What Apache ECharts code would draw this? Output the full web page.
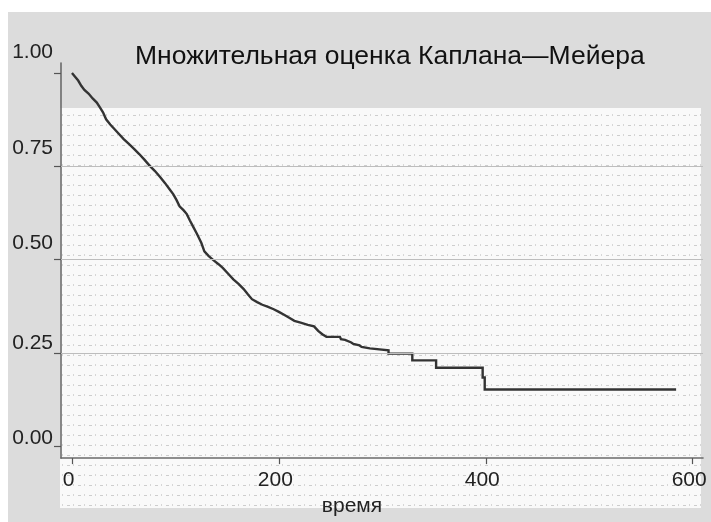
<!DOCTYPE html>
<html>
<head>
<meta charset="utf-8">
<script src="https://cdn.jsdelivr.net/npm/echarts@6/dist/echarts.min.js"></script>
<style>
  html, body { margin: 0; padding: 0; background: #ffffff; }
  #chart { width: 711px; height: 522px; }
</style>
</head>
<body>
<div id="chart"></div>
<script>
// Kaplan–Meier survival curve, traced as a path: time and survival at each vertex.
// In the sparse tail every drop is given by its two corner points.
const times = [
  0, 3, 6, 9, 12, 16, 20, 24, 27, 30, 33, 37, 41, 45, 50, 55, 60, 65, 70, 75,
  80, 85, 90, 94, 98, 101, 104, 108, 111, 114, 117, 121, 125, 128, 132, 137, 142, 146, 151, 156,
  161, 166, 170, 174, 179, 184, 189, 195, 200, 205, 210, 215, 221, 228, 234, 238, 242, 246, 259, 260,
  264, 265, 270, 272, 278, 280, 288, 289, 306, 306, 329, 329, 352, 352, 397, 397, 399, 399, 584
];
const survival = [
  1.000, 0.990, 0.980, 0.966, 0.955, 0.945, 0.932, 0.921, 0.908, 0.895, 0.876, 0.862, 0.850, 0.838, 0.823, 0.810, 0.797, 0.783, 0.768, 0.752,
  0.738, 0.722, 0.705, 0.690, 0.675, 0.660, 0.643, 0.632, 0.622, 0.605, 0.589, 0.568, 0.545, 0.522, 0.510, 0.498, 0.487, 0.477, 0.462, 0.447,
  0.435, 0.421, 0.407, 0.394, 0.386, 0.379, 0.374, 0.367, 0.360, 0.352, 0.344, 0.336, 0.331, 0.325, 0.321, 0.309, 0.300, 0.293, 0.293, 0.287,
  0.285, 0.280, 0.278, 0.274, 0.270, 0.266, 0.262, 0.257, 0.257, 0.248, 0.248, 0.230, 0.230, 0.210, 0.210, 0.184, 0.184, 0.152, 0.152
];
const xTicks = [0, 200, 400, 600];
const yTicks = [0, 0.25, 0.5, 0.75, 1];
const gridLevels = [0.25, 0.5, 0.75];
const titleText = 'Множительная оценка Каплана—Мейера';
const xName = 'время';

const FONT = '"Liberation Sans", Arial, Helvetica, sans-serif';

// each y label sits above its tick; the gap grows a little toward the top
const yLabelLift = [16, 20, 32, 36, 42];
const yRich = {};
yLabelLift.forEach((h, i) => {
  yRich['l' + i] = { fontSize: 21, color: '#222222', fontFamily: FONT, lineHeight: h };
});

// dotted texture for the plotting panel
function makePattern() {
  const c = document.createElement('canvas');
  c.width = 11; c.height = 10;
  const g = c.getContext('2d');
  g.fillStyle = '#f9f9f9';
  g.fillRect(0, 0, 11, 10);
  g.fillStyle = 'rgba(150,150,150,0.45)';
  g.fillRect(1, 5, 3, 1);
  g.fillStyle = 'rgba(150,150,150,0.35)';
  g.fillRect(7, 4, 1, 2);
  return c;
}

const points = times.map((t, i) => [t, survival[i]]);

const chart = echarts.init(document.getElementById('chart'), null, { renderer: 'canvas' });
chart.setOption({
  animation: false,
  backgroundColor: '#ffffff',
  textStyle: { fontFamily: FONT },
  title: {
    text: titleText,
    left: 130,
    top: 38,
    textStyle: { fontFamily: FONT, fontSize: 26.5, fontWeight: 'normal', color: '#111111' }
  },
  graphic: [
    { type: 'rect', z: -100, silent: true,
      shape: { x: 8, y: 12, width: 703, height: 510 },
      style: { fill: '#dcdcdc' } },
    { type: 'rect', z: -90, silent: true,
      shape: { x: 60, y: 108, width: 641, height: 400 },
      style: { fill: { image: makePattern(), repeat: 'repeat' } } }
  ],
  grid: { left: 61, right: 8, top: 63, bottom: 62, containLabel: false },
  xAxis: {
    type: 'value',
    min: -10.6,
    max: 610,
    axisLine: { show: true, onZero: false, lineStyle: { color: '#6a6a6a', width: 1.6 } },
    axisTick: { show: true, customValues: xTicks, length: 6, lineStyle: { color: '#555555', width: 1.2 } },
    axisLabel: {
      customValues: xTicks, margin: 12, fontSize: 21, color: '#222222', fontFamily: FONT,
      padding: [0, 7, 0, 0]
    },
    splitLine: { show: false },
    name: xName,
    nameLocation: 'middle',
    nameGap: 36,
    nameTextStyle: { fontSize: 21, color: '#222222', fontFamily: FONT, padding: [0, 60, 0, 0] }
  },
  yAxis: {
    type: 'value',
    min: -0.032,
    max: 1.027,
    axisLine: { show: true, onZero: false, lineStyle: { color: '#6a6a6a', width: 1.6 } },
    axisTick: { show: true, customValues: yTicks, length: 7, lineStyle: { color: '#555555', width: 1.2 } },
    axisLabel: {
      customValues: yTicks, margin: 8, fontSize: 21, color: '#222222', fontFamily: FONT,
      verticalAlign: 'bottom',
      formatter: v => {
        const i = yTicks.findIndex(t => Math.abs(t - v) < 1e-9);
        return '{l' + (i < 0 ? 0 : i) + '|' + v.toFixed(2) + '}';
      },
      rich: yRich
    },
    splitLine: { show: false }
  },
  series: [{
    type: 'line',
    data: points,
    showSymbol: false,
    symbol: 'none',
    lineStyle: { color: '#333333', width: 2.4, join: 'miter' },
    markLine: {
      silent: true,
      symbol: ['none', 'none'],
      label: { show: false },
      lineStyle: { color: '#bdbdbd', width: 1.2, type: 'solid' },
      data: gridLevels.map(v => ({ yAxis: v }))
    },
    z: 3
  }]
});
</script>
</body>
</html>
